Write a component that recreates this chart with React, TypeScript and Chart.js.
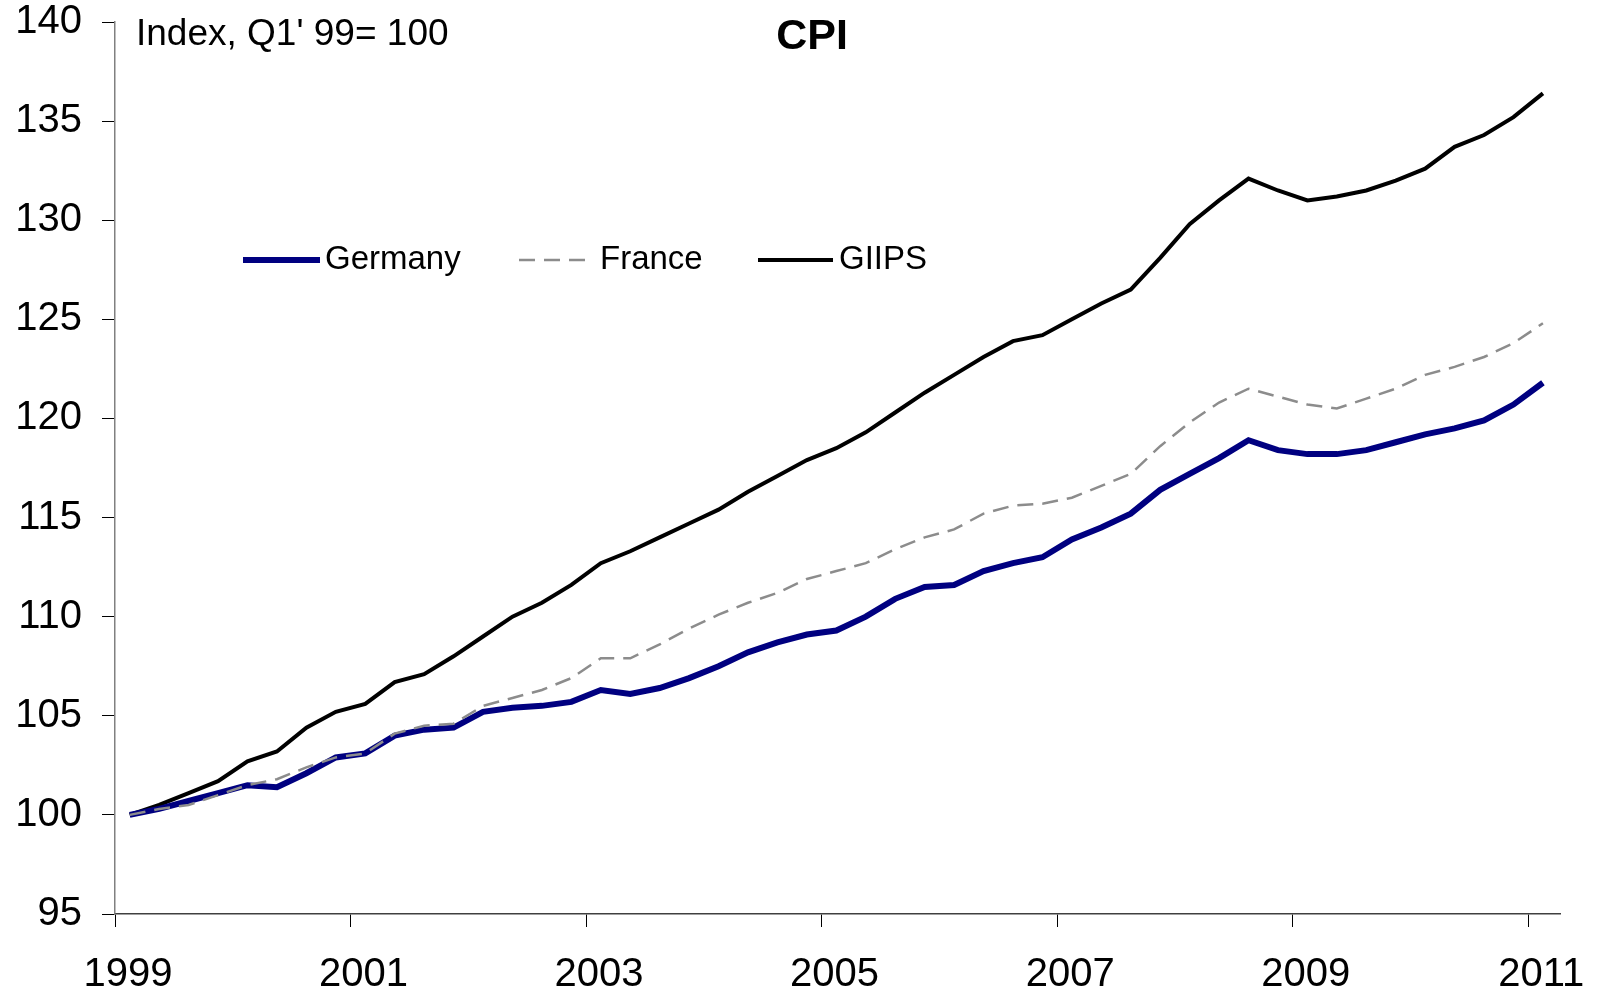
import React, { useEffect, useRef } from "react";
import { Chart, registerables } from "chart.js";

Chart.register(...registerables);

const FONT = "'Liberation Sans', Arial, Helvetica, sans-serif";

const quarters = [
  "1999 Q1", "1999 Q2", "1999 Q3", "1999 Q4",
  "2000 Q1", "2000 Q2", "2000 Q3", "2000 Q4",
  "2001 Q1", "2001 Q2", "2001 Q3", "2001 Q4",
  "2002 Q1", "2002 Q2", "2002 Q3", "2002 Q4",
  "2003 Q1", "2003 Q2", "2003 Q3", "2003 Q4",
  "2004 Q1", "2004 Q2", "2004 Q3", "2004 Q4",
  "2005 Q1", "2005 Q2", "2005 Q3", "2005 Q4",
  "2006 Q1", "2006 Q2", "2006 Q3", "2006 Q4",
  "2007 Q1", "2007 Q2", "2007 Q3", "2007 Q4",
  "2008 Q1", "2008 Q2", "2008 Q3", "2008 Q4",
  "2009 Q1", "2009 Q2", "2009 Q3", "2009 Q4",
  "2010 Q1", "2010 Q2", "2010 Q3", "2010 Q4",
  "2011 Q1",
];

const germany = [
  100.0, 100.3, 100.7, 101.1, 101.5, 101.4, 102.1, 102.9,
  103.1, 104.0, 104.3, 104.4, 105.2, 105.4, 105.5, 105.7,
  106.3, 106.1, 106.4, 106.9, 107.5, 108.2, 108.7, 109.1,
  109.3, 110.0, 110.9, 111.5, 111.6, 112.3, 112.7, 113.0,
  113.9, 114.5, 115.2, 116.4, 117.2, 118.0, 118.9, 118.4,
  118.2, 118.2, 118.4, 118.8, 119.2, 119.5, 119.9, 120.7,
  121.8,
];

const france = [
  100.0, 100.3, 100.5, 101.0, 101.5, 101.8, 102.4, 102.9,
  103.1, 104.1, 104.5, 104.6, 105.5, 105.9, 106.3, 106.9,
  107.9, 107.9, 108.6, 109.4, 110.1, 110.7, 111.2, 111.9,
  112.3, 112.7, 113.4, 114.0, 114.4, 115.2, 115.6, 115.7,
  116.0, 116.6, 117.2, 118.6, 119.8, 120.8, 121.5, 121.1,
  120.7, 120.5, 121.0, 121.5, 122.2, 122.6, 123.1, 123.8,
  124.8,
];

const giips = [
  100.0, 100.5, 101.1, 101.7, 102.7, 103.2, 104.4, 105.2,
  105.6, 106.7, 107.1, 108.0, 109.0, 110.0, 110.7, 111.6,
  112.7, 113.3, 114.0, 114.7, 115.4, 116.3, 117.1, 117.9,
  118.5, 119.3, 120.3, 121.3, 122.2, 123.1, 123.9, 124.2,
  125.0, 125.8, 126.5, 128.1, 129.8, 131.0, 132.1, 131.5,
  131.0, 131.2, 131.5, 132.0, 132.6, 133.7, 134.3, 135.2,
  136.4,
];

const xTickYears = [1999, 2001, 2003, 2005, 2007, 2009, 2011];
const yTickValues = [95, 100, 105, 110, 115, 120, 125, 130, 135, 140];

const titleText = "CPI";
const subtitleText = "Index, Q1' 99= 100";
const seriesNames = ["Germany", "France", "GIIPS"];

// quarter label -> decimal year at mid-quarter
const quarterToYear = (q: string) => {
  const [y, qq] = q.split(" Q");
  return Number(y) + (Number(qq) - 1) / 4 + 0.125;
};

export default function App() {
  const ref = useRef<HTMLCanvasElement>(null);

  useEffect(() => {
    const toPoints = (vals: number[]) =>
      vals.map((v, i) => ({ x: quarterToYear(quarters[i]), y: v }));

    const overlay = {
      id: "overlay",
      afterDraw(chart: any) {
        const ctx = chart.ctx as CanvasRenderingContext2D;
        ctx.save();
        ctx.fillStyle = "#000";
        ctx.textBaseline = "middle";
        // title
        ctx.font = `bold 43px ${FONT}`;
        ctx.textAlign = "center";
        ctx.fillText(titleText, 812, 37);
        // subtitle
        ctx.font = `37px ${FONT}`;
        ctx.textAlign = "left";
        ctx.fillText(subtitleText, 136, 35);

        // legend
        const ly = 260;
        ctx.font = `33px ${FONT}`;
        ctx.lineCap = "butt";
        // Germany
        ctx.strokeStyle = "#000080";
        ctx.lineWidth = 6;
        ctx.setLineDash([]);
        ctx.beginPath();
        ctx.moveTo(243, ly);
        ctx.lineTo(320, ly);
        ctx.stroke();
        ctx.fillText(seriesNames[0], 325, ly);
        // France
        ctx.strokeStyle = "#8c8c8c";
        ctx.lineWidth = 2.5;
        ctx.setLineDash([16, 9]);
        ctx.beginPath();
        ctx.moveTo(519, ly);
        ctx.lineTo(594, ly);
        ctx.stroke();
        ctx.setLineDash([]);
        ctx.fillText(seriesNames[1], 600, ly);
        // GIIPS
        ctx.strokeStyle = "#000";
        ctx.lineWidth = 4;
        ctx.beginPath();
        ctx.moveTo(758, ly);
        ctx.lineTo(833, ly);
        ctx.stroke();
        ctx.fillText(seriesNames[2], 839, ly);
        ctx.restore();
      },
    };

    const chart = new Chart(ref.current!, {
      type: "line",
      data: {
        datasets: [
          {
            label: seriesNames[1],
            data: toPoints(france),
            borderColor: "#8c8c8c",
            borderWidth: 2.5,
            borderDash: [16, 9],
            pointRadius: 0,
            tension: 0,
            order: 1,
          },
          {
            label: seriesNames[0],
            data: toPoints(germany),
            borderColor: "#000080",
            borderWidth: 6,
            pointRadius: 0,
            tension: 0,
            order: 2,
          },
          {
            label: seriesNames[2],
            data: toPoints(giips),
            borderColor: "#000000",
            borderWidth: 4,
            pointRadius: 0,
            tension: 0,
            order: 3,
          },
        ],
      },
      options: {
        animation: false,
        responsive: false,
        devicePixelRatio: 1,
        layout: { padding: { top: 22, right: 41, left: 0, bottom: 0 } },
        plugins: {
          legend: { display: false },
          tooltip: { enabled: false },
          title: { display: false },
        },
        scales: {
          x: {
            type: "linear",
            min: 1999,
            max: 2011.27,
            afterBuildTicks: (s: any) => {
              s.ticks = xTickYears.map((v) => ({ value: v }));
            },
            afterFit: (s: any) => {
              s.height = 83;
              s.paddingLeft = 0;
              s.paddingRight = 0;
            },
            grid: {
              drawOnChartArea: false,
              drawTicks: true,
              tickLength: 13,
              tickColor: "#000",
              tickWidth: 1,
            },
            border: { color: "#404040", width: 1.5 },
            ticks: {
              color: "#000",
              font: { family: FONT, size: 40 },
              padding: 24,
              labelOffset: 13,
              maxRotation: 0,
              autoSkip: false,
              callback: (v: any) => String(v),
            },
          },
          y: {
            type: "linear",
            min: 95,
            max: 140,
            afterBuildTicks: (s: any) => {
              s.ticks = yTickValues.map((v) => ({ value: v }));
            },
            afterFit: (s: any) => {
              s.width = 115;
              s.paddingTop = 0;
              s.paddingBottom = 0;
            },
            grid: {
              drawOnChartArea: false,
              drawTicks: true,
              tickLength: 13,
              tickColor: "#000",
              tickWidth: 1,
            },
            border: { color: "#808080", width: 1.5 },
            ticks: {
              color: "#000",
              font: { family: FONT, size: 40 },
              padding: 20,
              autoSkip: false,
              callback: (v: any) => String(v),
            },
          },
        },
      },
      plugins: [overlay],
    } as any);

    return () => chart.destroy();
  }, []);

  return (
    <div
      style={{
        position: "fixed",
        left: 0,
        top: 0,
        width: 1601,
        height: 997,
        background: "#fff",
        overflow: "hidden",
      }}
    >
      <canvas ref={ref} width={1601} height={997} style={{ width: 1601, height: 997 }} />
    </div>
  );
}
